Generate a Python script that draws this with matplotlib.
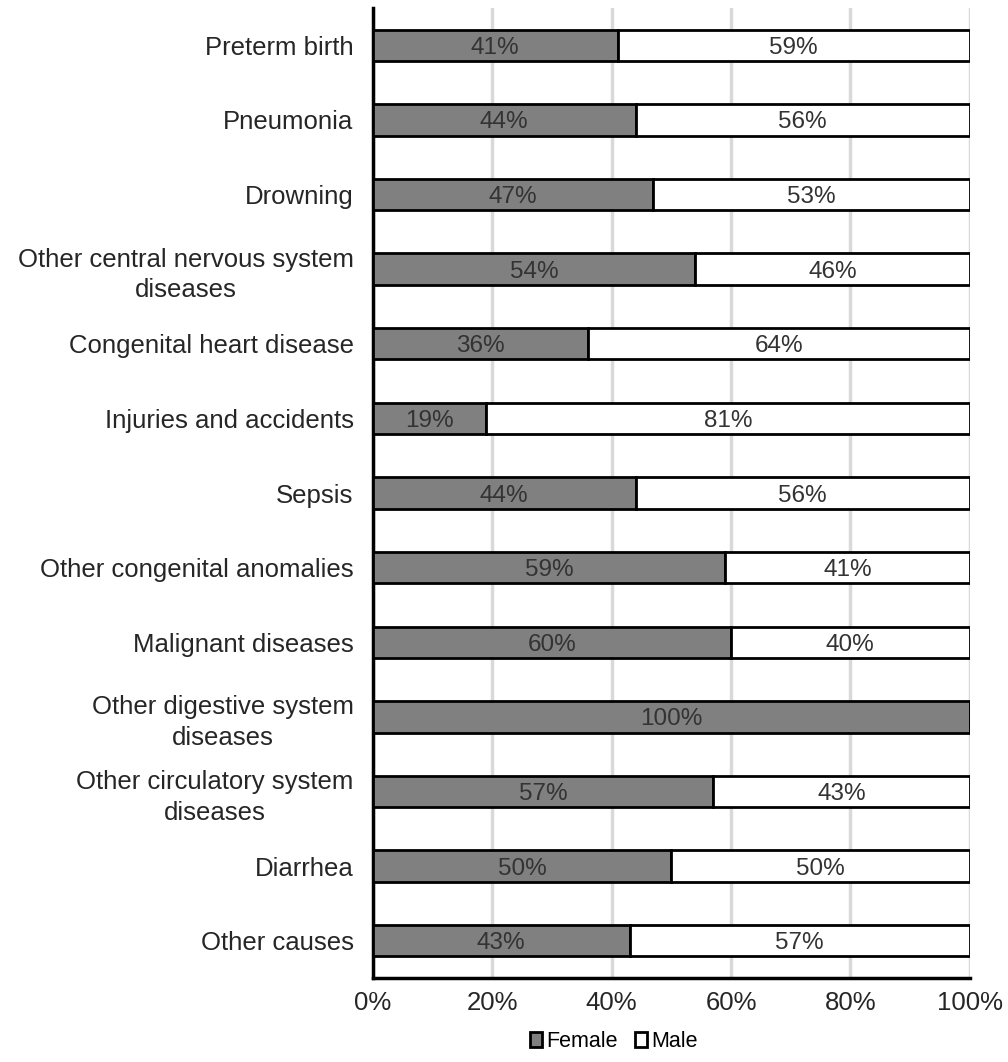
import matplotlib.pyplot as plt
import numpy as np

plt.rcParams['font.family'] = ['Liberation Sans', 'DejaVu Sans']

causes = ['Preterm birth', 'Pneumonia', 'Drowning',
          'Other central nervous system\ndiseases', 'Congenital heart disease',
          'Injuries and accidents', 'Sepsis', 'Other congenital anomalies',
          'Malignant diseases', 'Other digestive system\ndiseases',
          'Other circulatory system\ndiseases', 'Diarrhea', 'Other causes']
female = [41, 44, 47, 54, 36, 19, 44, 59, 60, 100, 57, 50, 43]
male = [59, 56, 53, 46, 64, 81, 56, 41, 40, 0, 43, 50, 57]

fig = plt.figure(figsize=(10.08, 10.62), dpi=100)
ax = fig.add_axes([0.370, 0.079, 0.592, 0.9135])

y = np.arange(len(causes))
f = np.array(female) / 100
m = np.array(male) / 100

ax.barh(y, f, height=0.42, color='#808080', edgecolor='black', linewidth=2,
        label='Female', zorder=3)
ax.barh(y, m, left=f, height=0.42, color='white', edgecolor='black', linewidth=2,
        label='Male', zorder=3)

for i in range(len(causes)):
    if female[i] > 0:
        ax.text(f[i] / 2, y[i], f'{female[i]}%', ha='center', va='center_baseline',
                fontsize=17.5, color='#333333', zorder=4)
    if male[i] > 0:
        ax.text(f[i] + m[i] / 2, y[i], f'{male[i]}%', ha='center', va='center_baseline',
                fontsize=17.5, color='#333333', zorder=4)

ax.set_xlim(0, 1)
ax.set_ylim(len(causes) - 0.5, -0.5)
ax.set_yticks(y)
ax.set_yticklabels(causes, fontsize=18.5, color='#262626', ha='right',
                   multialignment='center', linespacing=1.35)
ax.set_xticks(np.linspace(0, 1, 6))
ax.set_xticklabels([f'{v}%' for v in range(0, 101, 20)], fontsize=18.5, color='#262626')
ax.tick_params(axis='both', length=0)
ax.tick_params(axis='x', pad=9)
ax.tick_params(axis='y', pad=14)

ax.grid(axis='x', color='#d9d9d9', linewidth=2.5, zorder=0)
for s in ['top', 'right']:
    ax.spines[s].set_visible(False)
for s in ['left', 'bottom']:
    ax.spines[s].set_linewidth(2.5)
    ax.spines[s].set_color('black')

fig.legend(*ax.get_legend_handles_labels(), loc='center',
           bbox_to_anchor=(0.609, 0.019), ncol=2, frameon=False,
           fontsize=15.5, handlelength=0.55, handleheight=0.7, handletextpad=0.2,
           columnspacing=0.8)

fig.savefig('out.png', dpi=100)
